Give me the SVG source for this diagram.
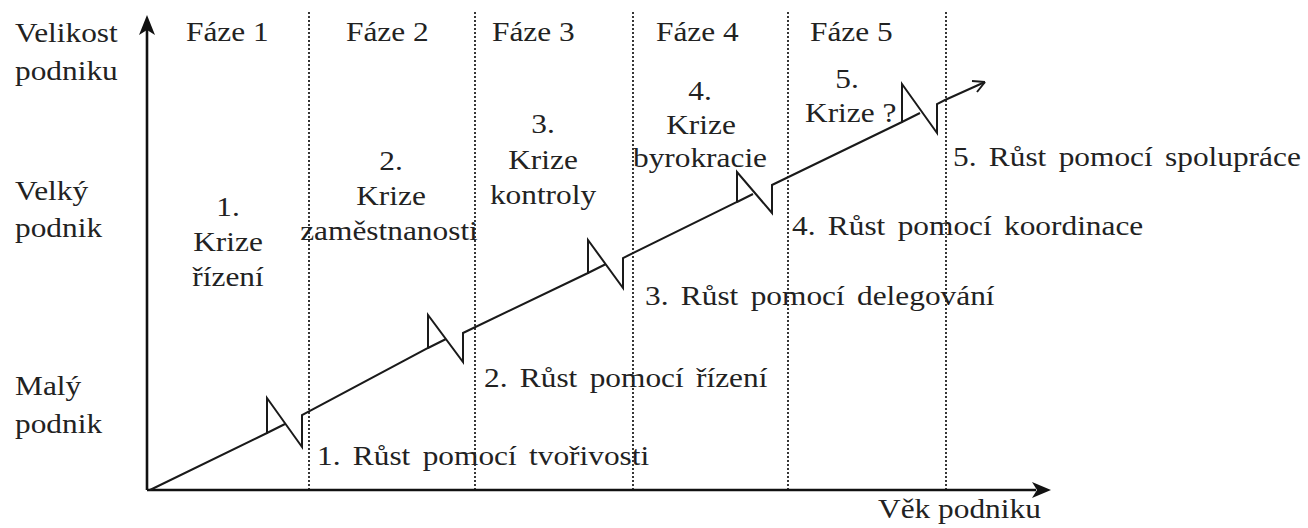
<svg xmlns="http://www.w3.org/2000/svg" width="1308" height="528" viewBox="0 0 1308 528">
<style>
text{font-family:"Liberation Serif","Times New Roman",serif;font-size:28px;fill:#222}
.m{text-anchor:middle}
.g{word-spacing:4px}
.dot{stroke:#222;stroke-width:1.8;stroke-dasharray:2 2;fill:none}
.ax{stroke:#111;stroke-width:2.6;fill:none}
.ln{stroke:#1a1a1a;stroke-width:2;fill:none;stroke-linejoin:miter}
</style>
<rect width="1308" height="528" fill="#fff"/>
<g id="connectors">
<path class="dot" d="M309,12V490M475,12V490M633,12V490M788,12V490M946,12V490"/>
<path class="ax" d="M147,490V30M147,490H1036"/>
<polygon points="147,15 139,35 147,30 155,35" fill="#111"/>
<polygon points="1051,490 1032,482 1037,490 1032,498" fill="#111"/>
<path class="ln" d="M150,490L267,433V398L302,447V415L428,348V315L463,362V333L588,273V240L623,288V258L737,202V172L772,213V185L902,122V84L937,133V104L945,100L985,82"/>
<path class="ln" d="M267,433l18,-9M428,348l18,-9M588,273l18,-9M737,202l16,-8M902,122l18,-9M985,82l-13,-1M985,82l-8,10"/>
</g>
<g id="axis-labels">
<text transform="translate(15,42) scale(1.12,1)">Velikost</text>
<text transform="translate(15,80) scale(1.12,1)">podniku</text>
<text transform="translate(15,200) scale(1.12,1)">Velký</text>
<text transform="translate(15,237) scale(1.12,1)">podnik</text>
<text transform="translate(15,395) scale(1.12,1)">Malý</text>
<text transform="translate(15,433) scale(1.12,1)">podnik</text>
<text transform="translate(878,518) scale(1.12,1)">Věk podniku</text>
</g>
<g id="phases">
<text transform="translate(186,41) scale(1.12,1)">Fáze 1</text>
<text transform="translate(346,41) scale(1.12,1)">Fáze 2</text>
<text transform="translate(492,41) scale(1.12,1)">Fáze 3</text>
<text transform="translate(656,41) scale(1.12,1)">Fáze 4</text>
<text transform="translate(810,41) scale(1.12,1)">Fáze 5</text>
</g>
<g id="crisis-1">
<text class="m" transform="translate(228,216) scale(1.12,1)">1.</text>
<text class="m" transform="translate(228,251) scale(1.12,1)">Krize</text>
<text class="m" transform="translate(228,286) scale(1.12,1)">řízení</text>
</g>
<g id="crisis-2">
<text class="m" transform="translate(391,170) scale(1.12,1)">2.</text>
<text class="m" transform="translate(391,205) scale(1.12,1)">Krize</text>
<text class="m" transform="translate(389,240) scale(1.12,1)">zaměstnanosti</text>
</g>
<g id="crisis-3">
<text class="m" transform="translate(543,133) scale(1.12,1)">3.</text>
<text class="m" transform="translate(543,169) scale(1.12,1)">Krize</text>
<text class="m" transform="translate(543,204) scale(1.12,1)">kontroly</text>
</g>
<g id="crisis-4">
<text class="m" transform="translate(700,100) scale(1.12,1)">4.</text>
<text class="m" transform="translate(701,134) scale(1.12,1)">Krize</text>
<text class="m" transform="translate(700,167) scale(1.12,1)">byrokracie</text>
</g>
<g id="crisis-5">
<text class="m" transform="translate(847,88) scale(1.12,1)">5.</text>
<text transform="translate(805,122) scale(1.12,1)">Krize ?</text>
</g>
<g id="growth">
<text class="g" transform="translate(317,465) scale(1.12,1)">1. Růst pomocí tvořivosti</text>
<text class="g" transform="translate(484,387) scale(1.12,1)">2. Růst pomocí řízení</text>
<text class="g" transform="translate(645,305) scale(1.12,1)">3. Růst pomocí delegování</text>
<text class="g" transform="translate(792,235) scale(1.12,1)">4. Růst pomocí koordinace</text>
<text class="g" transform="translate(953,166) scale(1.12,1)">5. Růst pomocí spolupráce</text>
</g>
</svg>
